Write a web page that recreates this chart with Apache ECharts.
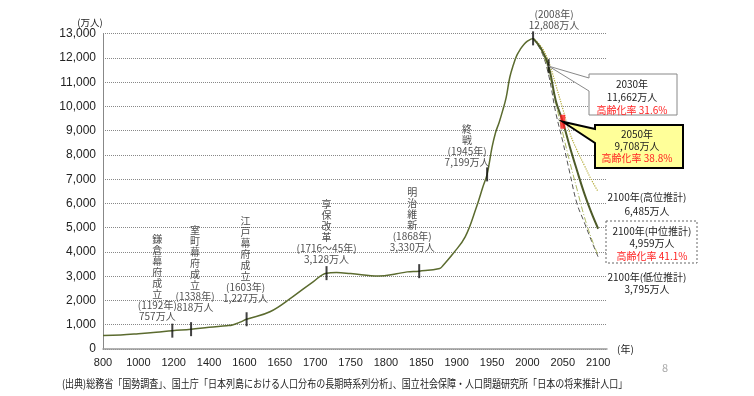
<!DOCTYPE html>
<html>
<head>
<meta charset="UTF-8">
<title></title>
<style>
html, body { margin: 0; padding: 0; background: #fff; }
#container { width: 754px; height: 396px; }
</style>
</head>
<body>
<div id="container"></div>
<script src="https://cdn.jsdelivr.net/npm/echarts@6/dist/echarts.min.js"></script>
<script>
// x軸の目盛（年）: 1600年までは200年刻み、以降は50年刻み
var tickYears = [800, 1000, 1200, 1400, 1600, 1650, 1700, 1750, 1800, 1850, 1900, 1950, 2000, 2050, 2100];

// 実績（万人）
var histYears = [800, 900, 1000, 1100, 1192, 1298, 1400, 1500, 1532, 1580, 1603, 1636, 1668, 1697, 1716, 1730, 1750, 1790, 1815, 1830, 1847, 1876, 1881, 1895, 1912, 1928, 1937, 1943, 1950, 1955, 1960, 1965, 1970, 1975, 1980, 1985, 1990, 1995, 2000, 2005, 2008];
var histPop = [560, 580, 630, 690, 757, 818, 900, 960, 990, 1120, 1227, 1535, 2150, 2770, 3128, 3150, 3110, 3010, 3100, 3180, 3210, 3321, 3457, 3938, 4621, 5856, 6679, 7199, 8320, 8928, 9342, 9828, 10372, 11194, 11706, 12105, 12361, 12557, 12693, 12777, 12808];

// 将来推計（万人）
var projYears = [2008, 2020, 2030, 2040, 2050, 2060, 2070, 2080, 2090, 2100];
var projHigh = [12808, 12450, 11850, 10900, 9900, 8900, 8200, 7600, 7000, 6485];
var projMid = [12808, 12350, 11662, 10250, 9370, 8330, 7370, 6450, 5650, 4959];
var projLow2 = [12808, 12300, 11450, 10150, 8900, 7700, 6600, 5500, 4600, 3850];
var projLow = [12808, 12250, 11300, 9750, 8550, 7250, 6000, 5250, 4500, 3795];

// 出来事の目印
var eventYears = [1192, 1298, 1603, 1716, 1847, 1943, 2008, 2030];
var eventPop = [757, 818, 1227, 3128, 3210, 7199, 12808, 11662];
var eventNames = ['鎌倉幕府成立', '室町幕府成立', '江戸幕府成立', '享保改革', '明治維新', '終戦', '', ''];
var eventNotes = ['(1192年)\n757万人', '(1338年)\n818万人', '(1603年)\n1,227万人', '(1716～45年)\n3,128万人', '(1868年)\n3,330万人', '(1945年)\n7,199万人', '(2008年)\n12,808万人', ''];

var markYear = 2050, markPop = 9370;

function toX(y) {
    if (y <= 1600) return (y - 800) / 200;
    return 4 + (y - 1600) / 50;
}
function pairs(xs, ys) {
    return xs.map(function (x, i) { return [toX(x), ys[i]]; });
}

var cjk = '"Noto Sans CJK JP", sans-serif';
var labelOffsets = [[-15, 2], [4, 9], [-1, 9], [0, 1], [-7, 11], [-20, 0], [21, 1], [0, 0]];

var eventData = eventYears.map(function (y, i) {
    return {
        value: [toX(y), eventPop[i]],
        label: { show: eventNotes[i] !== '', offset: [labelOffsets[i][0], 0], distance: labelOffsets[i][1] }
    };
});

var myChart = echarts.init(document.getElementById('container'));

myChart.setOption({
    animation: false,
    grid: { left: 103, top: 33.7, right: 147, bottom: 47 },
    xAxis: {
        type: 'value',
        min: 0,
        max: 14.25,
        interval: 1,
        name: '(年)',
        nameLocation: 'end',
        nameGap: 10,
        nameTextStyle: { color: '#222', fontSize: 10, fontFamily: cjk },
        axisLine: { lineStyle: { color: '#999', width: 1.5 } },
        axisTick: { show: false },
        splitLine: { show: false },
        axisLabel: {
            color: '#222',
            fontSize: 11,
            fontFamily: 'Liberation Sans',
            margin: 8,
            formatter: function (v) {
                var i = Math.round(v);
                if (Math.abs(v - i) > 1e-6 || i > 14) return '';
                return tickYears[i];
            }
        }
    },
    yAxis: {
        type: 'value',
        min: 0,
        max: 13000,
        interval: 1000,
        axisLine: { show: true, lineStyle: { color: '#888', width: 1 } },
        axisTick: { show: false },
        splitLine: { lineStyle: { color: '#888', type: 'dotted', width: 1 } },
        axisLabel: {
            color: '#222',
            fontSize: 12,
            fontFamily: 'Liberation Sans',
            margin: 7,
            formatter: function (v) { return v.toLocaleString('en-US'); }
        }
    },
    series: [
        {
            type: 'line', data: pairs(histYears, histPop), symbol: 'none',
            smooth: 0.4,
            lineStyle: { color: '#5b6b2f', width: 1.5 }
        },
        {
            type: 'line', data: pairs(projYears, projHigh), symbol: 'none',
            smooth: 0.4,
            lineStyle: { color: '#b5ad3c', width: 1.2, type: 'dotted' }
        },
        {
            type: 'line', data: pairs(projYears, projLow), symbol: 'none',
            smooth: 0.4,
            lineStyle: { color: '#555', width: 1, type: [5, 3] }
        },
        {
            type: 'line', data: pairs(projYears, projLow2), symbol: 'none',
            smooth: 0.4,
            lineStyle: { color: '#aab660', width: 1, type: [6, 2, 1, 2] }
        },
        {
            type: 'line', data: pairs(projYears, projMid), symbol: 'none',
            smooth: 0.4,
            lineStyle: { color: '#4d5a28', width: 2 }
        },
        {
            type: 'scatter', data: eventData, symbol: 'rect', symbolSize: [2, 14],
            itemStyle: { color: '#111' }, z: 5,
            label: {
                show: true, position: 'top', color: '#222',
                fontSize: 10, lineHeight: 11, fontFamily: cjk, align: 'center',
                formatter: function (p) {
                    var i = p.dataIndex;
                    var v = eventNames[i].split('').join('\n');
                    return (v ? v + '\n' : '') + eventNotes[i];
                }
            }
        },
        {
            type: 'scatter', data: [[toX(markYear), markPop]], symbol: 'rect', symbolSize: [5, 14],
            itemStyle: { color: '#ff1a1a' }, z: 6
        }
    ]
});

var tip30 = myChart.convertToPixel({ gridIndex: 0 }, [toX(2030), 11662]);
var tip50 = myChart.convertToPixel({ gridIndex: 0 }, [toX(markYear), markPop]);

function txt(x, y, s, color, size) {
    return {
        type: 'text', x: x, y: y, z: 10,
        style: {
            text: s, fill: color || '#222', font: (size || 10) + 'px ' + cjk,
            textAlign: 'center', textVerticalAlign: 'middle'
        }
    };
}

myChart.setOption({
    graphic: [
        {
            type: 'polygon', z: 8,
            shape: { points: [[589, 74], [677, 74], [677, 115], [589, 115], [589, 91], tip30, [589, 78]] },
            style: { fill: '#fff', stroke: '#888', lineWidth: 1 }
        },
        txt(632, 84, '2030年'),
        txt(632, 97, '11,662万人'),
        txt(632, 110, '高齢化率 31.6%', '#ff2020'),
        {
            type: 'polygon', z: 8,
            shape: { points: [[595, 125], [683, 125], [683, 168], [595, 168], [595, 143], tip50, [595, 129]] },
            style: { fill: '#ffff99', stroke: '#000', lineWidth: 2 }
        },
        txt(637, 134.5, '2050年'),
        txt(637, 146.5, '9,708万人'),
        txt(637, 158.5, '高齢化率 38.8%', '#ff2020'),
        txt(647, 197, '2100年(高位推計)'),
        txt(647, 211, '6,485万人'),
        {
            type: 'rect', z: 8,
            shape: { x: 606, y: 221, width: 91, height: 42 },
            style: { fill: 'none', stroke: '#666', lineWidth: 1, lineDash: [2, 2] }
        },
        txt(652, 231, '2100年(中位推計)'),
        txt(652, 243, '4,959万人'),
        txt(652, 256, '高齢化率 41.1%', '#ff2020'),
        txt(647, 277, '2100年(低位推計)'),
        txt(647, 289, '3,795万人'),
        txt(90, 22, '(万人)', '#222', 9.5),
        txt(665, 368, '8', '#aaa', 11),
        {
            type: 'text', x: 62, y: 384, scaleX: 0.82, z: 10,
            style: {
                text: '(出典)総務省「国勢調査」、国土庁「日本列島における人口分布の長期時系列分析」、国立社会保障・人口問題研究所「日本の将来推計人口」',
                fill: '#222', font: '11px ' + cjk, textAlign: 'left', textVerticalAlign: 'middle'
            }
        }
    ]
});
</script>
</body>
</html>
